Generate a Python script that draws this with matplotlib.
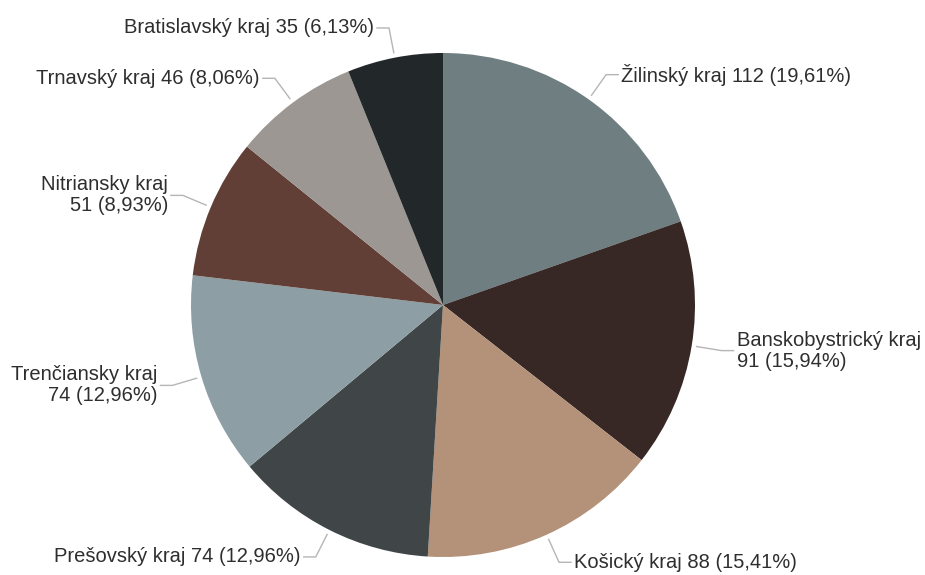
import matplotlib
matplotlib.use("Agg")
import matplotlib.pyplot as plt
import numpy as np

regions = ["Žilinský kraj", "Banskobystrický kraj", "Košický kraj", "Prešovský kraj",
           "Trenčiansky kraj", "Nitriansky kraj", "Trnavský kraj", "Bratislavský kraj"]
counts = [112, 91, 88, 74, 74, 51, 46, 35]
percents = ["19,61", "15,94", "15,41", "12,96", "12,96", "8,93", "8,06", "6,13"]
two_line = [False, True, False, False, True, True, False, False]
colors = ["#6e7e81", "#372826", "#b39279", "#404648", "#8d9ea4", "#623f36", "#9c9793", "#222829"]

plt.rcParams['font.family'] = ['Liberation Sans', 'DejaVu Sans']

W, H = 925, 575
fig = plt.figure(figsize=(W / 100, H / 100), dpi=100)
ax = fig.add_axes([0, 0, 1, 1])
cx, cy, R = 443, H - 305, 252

wedges, _ = ax.pie(counts, colors=colors, startangle=90, counterclock=False,
                   center=(cx, cy), radius=R, wedgeprops=dict(linewidth=0))
ax.set_xlim(0, W)
ax.set_ylim(0, H)
ax.set_aspect('equal')
ax.axis('off')

for w, name, c, p, tl in zip(wedges, regions, counts, percents, two_line):
    ang = np.deg2rad((w.theta1 + w.theta2) / 2)
    ca, sa = np.cos(ang), np.sin(ang)
    p0 = (cx + R * 1.02 * ca, cy + R * 1.02 * sa)
    p1 = (cx + R * 1.12 * ca, cy + R * 1.12 * sa)
    side = 1 if ca >= 0 else -1
    p2 = (p1[0] + side * 12, p1[1])
    ax.plot([p0[0], p1[0], p2[0]], [p0[1], p1[1], p2[1]], color="#b5b5b5", lw=1,
            solid_joinstyle='miter')
    if tl:
        txt = f"{name}\n{c} ({p}%)"
    else:
        txt = f"{name} {c} ({p}%)"
    ax.text(p2[0] + side * 3, p2[1], txt, ha='left' if side > 0 else 'right',
            va='center', fontsize=14.5, color="#2e2e2e", linespacing=1.12,
            multialignment='left' if side > 0 else 'right')

fig.savefig("out.png", dpi=100, facecolor="white")
